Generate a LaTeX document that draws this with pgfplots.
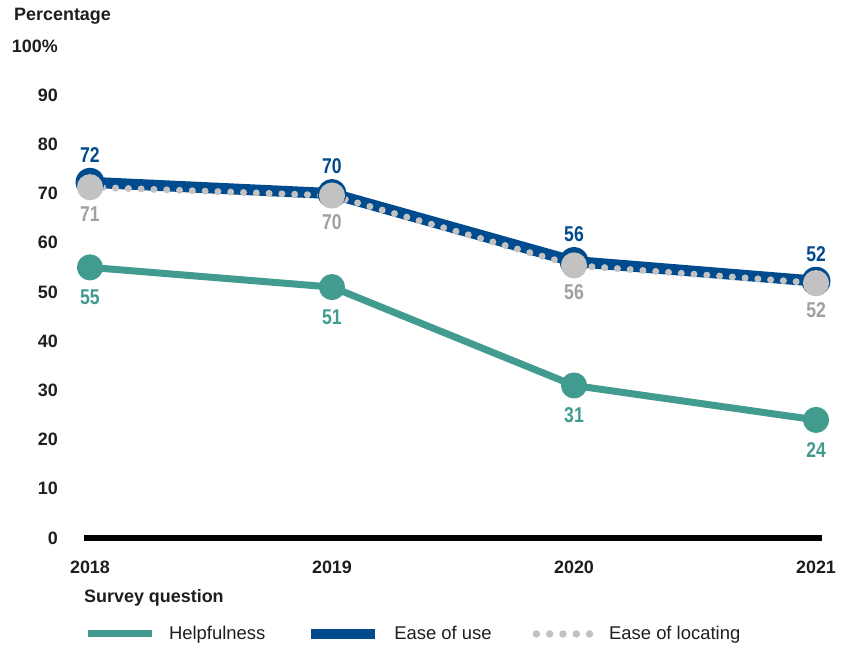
\documentclass[border=0pt]{standalone}
\usepackage{fontspec}
\setmainfont{Liberation Sans}
\newfontfamily\narrowfont[FakeStretch=0.82]{Liberation Sans}
\usepackage{pgfplots}
\pgfplotsset{compat=1.18}
\definecolor{tealC}{RGB}{66,155,143}
\definecolor{blueC}{RGB}{0,75,141}
\definecolor{greyC}{RGB}{194,194,194}
\definecolor{greyT}{RGB}{160,160,160}
\definecolor{txt}{RGB}{30,30,30}
\begin{document}
\begin{tikzpicture}[x=1bp,y=1bp]
\begin{axis}[
  at={(84bp,110bp)}, anchor=south west, scale only axis,
  width=738bp, height=492bp,
  xmin=2017.9753, xmax=2021.0247, ymin=0, ymax=100,
  axis x line=bottom, axis y line=left,
  axis line style={-},
  x axis line style={line width=5bp, black},
  y axis line style={draw=none},
  xtick={2018,2019,2020,2021},
  ytick={0,10,...,100},
  yticklabels={0,10,20,30,40,50,60,70,80,90,100\%},
  major tick length=0pt,
  /pgf/number format/assume math mode=true,
  /pgf/number format/1000 sep={},
  tick label style={font=\fontsize{18}{18}\selectfont\bfseries, text=txt, inner sep=0pt},
  yticklabel style={anchor=east, xshift=-26bp},
  xticklabel style={anchor=north, yshift=-23bp},
  clip=false,
  legend columns=3,
  legend style={at={(0,-0.195)}, anchor=west, draw=none, fill=none,
    inner sep=0pt, outer sep=0pt,
    font=\fontsize{18.5}{18.5}\selectfont, text=txt,
    /tikz/every odd column/.append style={column sep=14bp},
    /tikz/every even column/.append style={column sep=41bp},
    nodes={inner sep=0pt}},
  point meta=explicit symbolic,
  nodes near coords,
  every node near coord/.append style={font=\narrowfont\fontsize{21.5}{21.5}\selectfont\bfseries, anchor=center},
]
\addplot[color=tealC, line width=7bp, line join=round,
  mark=*, mark size=9.5bp, mark options={draw=none, fill=tealC},
  every node near coord/.append style={text=tealC, yshift=-30bp},
  legend image code/.code={\draw[tealC, line width=7bp] (0bp,0bp) -- (64bp,0bp);}]
  coordinates {(2018,55)[55] (2019,51)[51] (2020,31)[31] (2021,24)[24]};
\addlegendentry{Helpfulness}
\addplot[color=blueC, line width=11bp, line join=round,
  mark=*, mark size=9bp, mark options={draw=none, fill=blueC},
  every node near coord/.append style={text=blueC, yshift=27bp},
  legend image code/.code={\draw[blueC, line width=10bp] (0bp,0bp) -- (64bp,0bp);}]
  coordinates {(2018,72.3)[72] (2019,70)[70] (2020,56.2)[56] (2021,52.2)[52]};
\addlegendentry{Ease of use}
\addplot[color=greyC, line width=7bp, line cap=round, dash pattern=on 0bp off 12.8bp,
  mark=*, mark size=9.5bp, mark options={draw=none, fill=greyC, solid},
  every node near coord/.append style={text=greyT, yshift=-27bp},
  legend image code/.code={\draw[greyC, line width=7.5bp, line cap=round, dash pattern=on 0bp off 13.3bp] (3bp,0bp) -- (58bp,0bp);}]
  coordinates {(2018,71.3)[71] (2019,69.6)[70] (2020,55.4)[56] (2021,51.8)[52]};
\addlegendentry{Ease of locating}
\end{axis}
\node[anchor=west, inner sep=0pt, text=txt, font=\fontsize{18}{18}\selectfont\bfseries] at (14bp,632bp) {Percentage};
\node[anchor=west, inner sep=0pt, text=txt, font=\fontsize{18}{18}\selectfont\bfseries] at (84bp,50bp) {Survey question};
\pgfresetboundingbox
\useasboundingbox (0,0) rectangle (846bp,648bp);
\end{tikzpicture}
\end{document}
